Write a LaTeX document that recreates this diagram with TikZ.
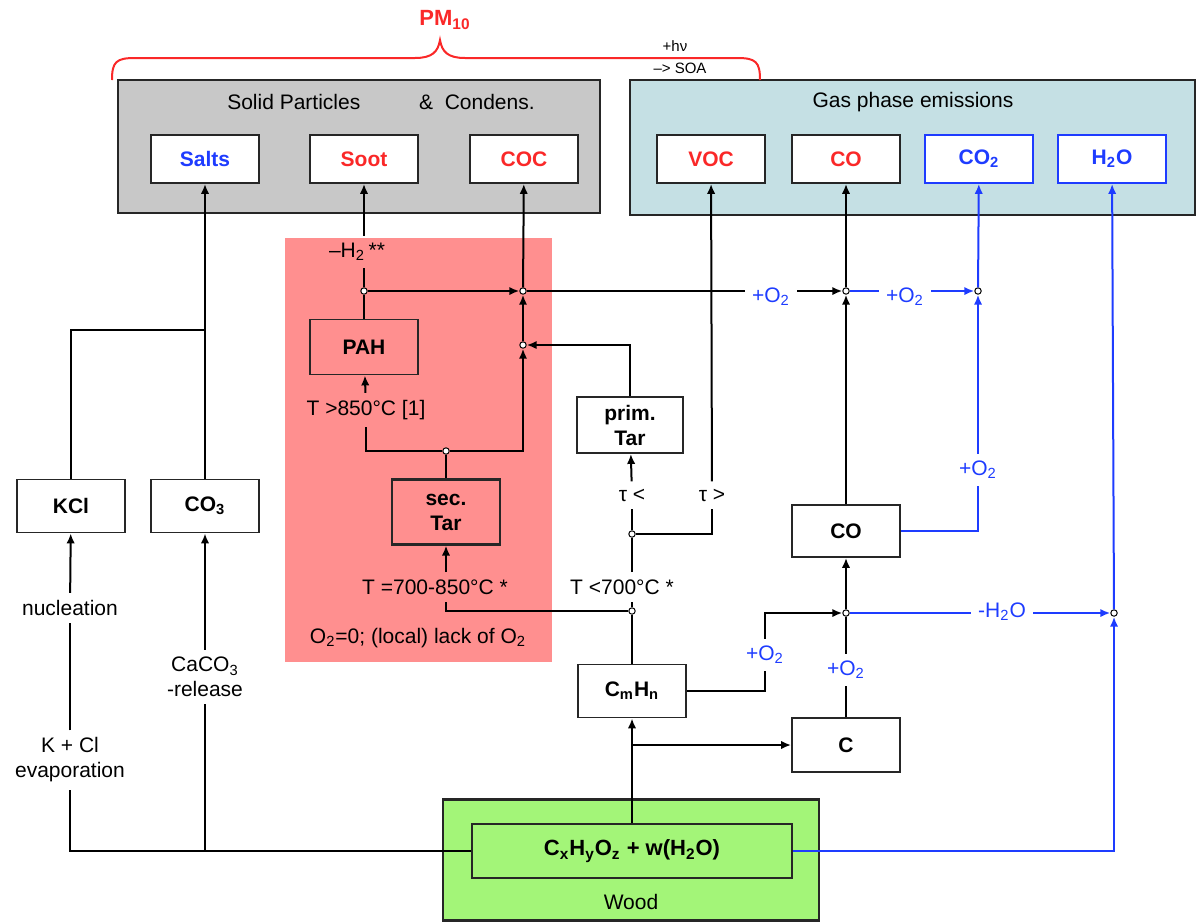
\documentclass[tikz,border=0pt]{standalone}
\usepackage{fontspec}
\setmainfont{Liberation Sans}
\usetikzlibrary{arrows.meta,positioning}
\usepackage{xcolor}
\definecolor{emGris}{RGB}{200,200,200}
\definecolor{emTeal}{RGB}{197,224,228}
\definecolor{emRosa}{RGB}{255,143,143}
\definecolor{emVerde}{RGB}{163,245,120}
\definecolor{emRojo}{RGB}{250,40,40}
\definecolor{emAzul}{RGB}{30,60,255}

\begin{document}
\begin{tikzpicture}[x=0.5pt, y=-0.5pt,
     font=\fontsize{10.5}{12.5}\selectfont,
     caja/.style={rectangle, draw=black!85, line width=0.9pt, fill=white,
                  minimum width=54pt, minimum height=24pt, align=center,
                  inner sep=1pt, font=\fontsize{10.5}{12.5}\selectfont\bfseries},
     grupo/.style={rectangle, draw=black!85, line width=1.1pt},
     etq/.style={inner sep=3.5pt, align=center},
     ln/.style={line width=1pt},
     fl/.style={-{Latex[length=5pt,width=4.2pt]}, line width=1pt},
     azl/.style={ln, emAzul},
     afl/.style={fl, emAzul},
     nudo/.style={circle, draw, fill=white, inner sep=0pt, minimum size=3.2pt, line width=0.5pt}]
    \useasboundingbox (0,0) rectangle (1199,922);
    % fondos
    \node[rectangle, fill=emRosa, minimum width=133.5pt, minimum height=212pt] (rosa) at (418.5,450) {};
    \node[grupo, fill=emGris, minimum width=241pt, minimum height=66.5pt] (solid) at (359,146.5) {};
    \node[grupo, fill=emTeal, minimum width=282.5pt, minimum height=67.5pt] (gas) at (912.5,147.5) {};
    \node[grupo, fill=emVerde, minimum width=188pt, minimum height=60.5pt] (wood) at (631,860) {};
    \node (tsol) at (381,102) {Solid Particles\hspace{2.8em}\&\ \ Condens.};
    \node (tgas) at (913,102) {Gas phase emissions};
    \node (twood) at (631,902) {Wood};
    % PM10
    \draw[emRojo, line width=1pt] (112,80) .. controls (112,62) and (116,58) .. (135,58)
       -- (415,58) .. controls (432,58) and (438,52) .. (440,40)
       .. controls (442,52) and (448,58) .. (465,58) -- (737,58)
       .. controls (756,58) and (760,62) .. (760,80);
    \node[text=emRojo, font=\fontsize{11}{13}\selectfont\bfseries] (pm) at (445,20) {PM\textsubscript{10}};
    \node[font=\fontsize{7.5}{9}\selectfont] (hnu) at (675,46) {+hν};
    \node[font=\fontsize{7.5}{9}\selectfont] (soa) at (680,68) {–> SOA};
    % emisiones
    \node[caja, text=emAzul] (salts) at (205,159) {Salts};
    \node[caja, text=emRojo] (soot) at (364,159) {Soot};
    \node[caja, text=emRojo] (coc) at (524,159) {COC};
    \node[caja, text=emRojo] (voc) at (711,159) {VOC};
    \node[caja, text=emRojo] (cotop) at (846,159) {CO};
    \node[caja, draw=emAzul, text=emAzul] (co2) at (979,159) {CO\textsubscript{2}};
    \node[caja, draw=emAzul, text=emAzul] (h2o) at (1112,159) {H\textsubscript{2}O};
    % cajas intermedias
    \node[caja, minimum height=26.5pt] (kcl) at (71,506) {KCl};
    \node[caja, minimum height=26.5pt] (co3) at (205,506) {CO\textsubscript{3}};
    \node[caja, fill=none, minimum height=27.5pt] (pah) at (364,347) {PAH};
    \node[caja, fill=none, line width=1.1pt, minimum height=32.5pt] (star) at (446,512) {sec.\\Tar};
    \node[caja, minimum width=53pt, minimum height=28pt] (ptar) at (630,425) {prim.\\Tar};
    \node[caja, minimum height=26pt] (colo) at (846,531) {CO};
    \node[caja, minimum height=26.5pt] (cmhn) at (632,691) {C\textsubscript{m}H\textsubscript{n}};
    \node[caja, minimum height=27pt] (cbox) at (846,745) {C};
    \node[caja, fill=emVerde, minimum width=160pt, minimum height=27pt,
          font=\fontsize{11}{13}\selectfont\bfseries] (wf) at (632,851)
        {C\textsubscript{x}H\textsubscript{y}O\textsubscript{z} + w(H\textsubscript{2}O)};
    % etiquetas
    \node[etq] (nucl) at (70,608) {nucleation};
    \node[etq] (evap) at (70,760) {K + Cl\\evaporation};
    \node[etq] (release) at (205,677) {CaCO\textsubscript{3}\\-release};
    \node[etq] (h2) at (357,252) {–H\textsubscript{2}\,**};
    \node[etq] (t850) at (366,410) {T >850°C [1]};
    \node[etq] (t700) at (435,587) {T =700-850°C *};
    \node[etq] (t7lo) at (622,587) {T <700°C *};
    \node[etq] (taul) at (632,495) {τ <};
    \node[etq] (taug) at (712,495) {τ >};
    \node[etq] (lost) at (418,638) {O\textsubscript{2}=0; (local) lack of O\textsubscript{2}};
    \node[etq, text=emAzul] (o2a) at (771,297) {+O\textsubscript{2}};
    \node[etq, text=emAzul] (o2b) at (905,297) {+O\textsubscript{2}};
    \node[etq, text=emAzul] (o2c) at (978,470) {+O\textsubscript{2}};
    \node[etq, text=emAzul] (o2d) at (765,655) {+O\textsubscript{2}};
    \node[etq, text=emAzul] (o2e) at (846,670) {+O\textsubscript{2}};
    \node[etq, text=emAzul] (h2ol) at (1002,612) {-H\textsubscript{2}O};
    % nudos
    \node[nudo] (pj) at (364,291) {};
    \node[nudo] (cj1) at (523,291) {};
    \node[nudo] (cj2) at (523,345) {};
    \node[nudo] (sj) at (446,451) {};
    \node[nudo] (coj) at (846,291) {};
    \node[nudo] (co2j) at (978,291) {};
    \node[nudo] (tj) at (632,611) {};
    \node[nudo] (tauj) at (632,534) {};
    \node[nudo] (coj2) at (846,613) {};
    \node[nudo] (h2oj) at (1114,613) {};
    \coordinate (jk) at (205,330);
    \coordinate (jca) at (205,851);
    \coordinate (jc) at (632,745);
    % sales
    \draw[ln] (wf) -| (evap);
    \draw[ln] (evap) -- (nucl);
    \draw[fl] (nucl) -- (kcl);
    \draw[ln] (jca) -- (release);
    \draw[fl] (release) -- (co3);
    \draw[fl] (co3) -- (salts);
    \draw[ln] (kcl) |- (jk);
    % alquitranes
    \draw[fl] (wf) -- (cmhn);
    \draw[fl] (jc) -- (cbox);
    \draw[ln] (cmhn) -- (tj);
    \draw[ln] (tj) -| (t700.south -| star);
    \draw[fl] (t700.north -| star) -- (star);
    \draw[ln] (star) -- (sj);
    \draw[ln] (sj) -| (t850);
    \draw[fl] (t850) -- (pah);
    \draw[ln] (pah) -- (pj);
    \draw[ln] (pj) -- (h2.south -| pj);
    \draw[fl] (h2.north -| soot) -- (soot);
    \draw[fl] (pj) -- (cj1);
    \draw[fl] (sj) -| (cj2);
    \draw[fl] (cj2) -- (cj1);
    \draw[fl] (cj1) -- (coc);
    \draw[ln] (tj) -- (t7lo.south -| tj);
    \draw[ln] (t7lo.north -| tj) -- (tauj);
    \draw[ln] (tauj) -- (taul);
    \draw[fl] (taul) -- (ptar);
    \draw[fl] (ptar) |- (cj2);
    \draw[ln] (tauj) -| (taug);
    \draw[fl] (taug) -- (voc);
    % oxidacion
    \draw[ln] (cj1) -- (o2a.west |- cj1);
    \draw[fl] (o2a.east |- coj) -- (coj);
    \draw[fl] (coj) -- (cotop);
    \draw[fl] (colo) -- (coj);
    \draw[azl] (coj) -- (o2b.west |- coj);
    \draw[afl] (o2b.east |- co2j) -- (co2j);
    \draw[afl] (co2j) -- (co2);
    \draw[azl] (colo) -| (o2c);
    \draw[afl] (o2c) -- (co2j);
    \draw[ln] (cmhn) -| (o2d);
    \draw[fl] (o2d) |- (coj2);
    \draw[ln] (cbox) -- (o2e);
    \draw[ln] (o2e) -- (coj2);
    \draw[fl] (coj2) -- (colo);
    \draw[azl] (coj2) -- (h2ol.west |- coj2);
    \draw[afl] (h2ol.east |- h2oj) -- (h2oj);
    \draw[afl] (h2oj) -- (h2o);
    \draw[afl] (wf) -| (h2oj);
  \end{tikzpicture}
\end{document}
